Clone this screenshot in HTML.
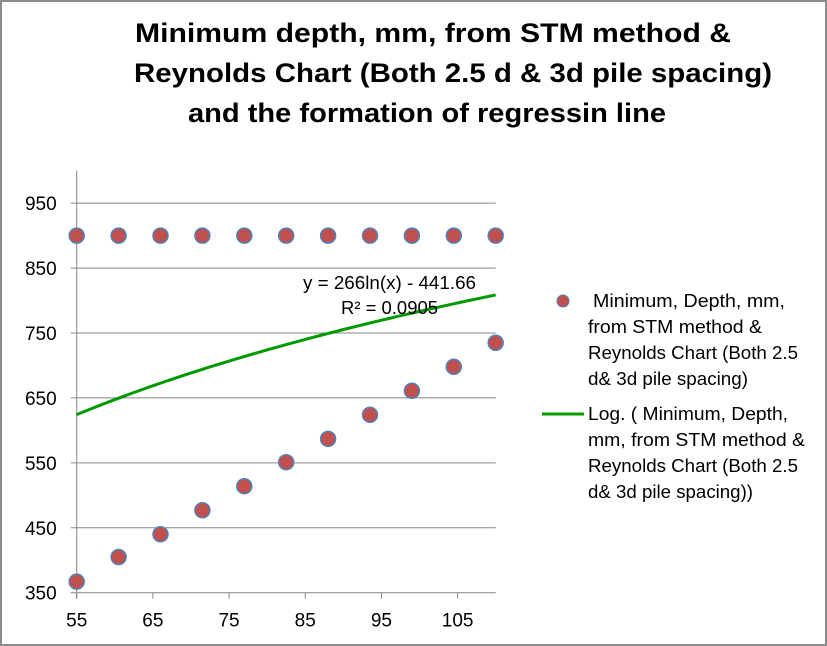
<!DOCTYPE html>
<html><head><meta charset="utf-8"><style>
html,body{margin:0;padding:0;background:#fff;}
svg{display:block;font-family:"Liberation Sans",sans-serif;}
</style></head><body>
<svg id="chart" width="827" height="646" viewBox="0 0 827 646">
<rect x="1" y="1" width="825" height="644" fill="#fff" stroke="#8c8c8c" stroke-width="2"/>
<g font-weight="bold" font-size="27" fill="#000">
<text x="135" y="42" textLength="596" lengthAdjust="spacingAndGlyphs">Minimum depth, mm, from STM method &amp;</text>
<text x="134" y="82" textLength="638" lengthAdjust="spacingAndGlyphs">Reynolds Chart (Both 2.5 d &amp; 3d pile spacing)</text>
<text x="188" y="122" textLength="478" lengthAdjust="spacingAndGlyphs">and the formation of regressin line</text>
</g>
<g id="grid"></g>
<g id="axes"></g>
<g id="trend"></g>
<g id="pts"></g>
<g font-size="18" fill="#000">
<text x="303" y="289" textLength="173" lengthAdjust="spacingAndGlyphs">y = 266ln(x) - 441.66</text>
<text x="341" y="314" textLength="97" lengthAdjust="spacingAndGlyphs">R² = 0.0905</text>
</g>
<g font-size="18" fill="#000">
<g>
<circle cx="563" cy="301" r="6" fill="#c0504d" stroke="#4f81bd" stroke-width="1"/>
<text x="593" y="307" textLength="192" lengthAdjust="spacingAndGlyphs">Minimum, Depth, mm,</text>
<text x="588" y="333" textLength="174" lengthAdjust="spacingAndGlyphs">from STM method &amp;</text>
<text x="588" y="359" textLength="210" lengthAdjust="spacingAndGlyphs">Reynolds Chart (Both 2.5</text>
<text x="588" y="385" textLength="160" lengthAdjust="spacingAndGlyphs">d&amp; 3d pile spacing)</text>
</g>
<g>
<line x1="542" y1="414" x2="584" y2="414" stroke="#009900" stroke-width="3"/>
<text x="588" y="420" textLength="200" lengthAdjust="spacingAndGlyphs">Log. ( Minimum, Depth,</text>
<text x="588" y="446" textLength="217" lengthAdjust="spacingAndGlyphs">mm, from STM method &amp;</text>
<text x="588" y="472" textLength="210" lengthAdjust="spacingAndGlyphs">Reynolds Chart (Both 2.5</text>
<text x="588" y="498" textLength="165" lengthAdjust="spacingAndGlyphs">d&amp; 3d pile spacing))</text>
</g>
</g>
</svg>
<script>
const xValues=[55,60.5,66,71.5,77,82.5,88,93.5,99,104.5,110];
const seriesUpper=[900,900,900,900,900,900,900,900,900,900,900];
const seriesLower=[367,405,440,477,514,551,587,624,661,698,735];
const yTicks=[350,450,550,650,750,850,950];
const xTicks=[55,65,75,85,95,105];
const trendA=266, trendB=-441.66;
const NS='http://www.w3.org/2000/svg';
const X0=76.7,X1=495.7,XMIN=55,XMAX=110;
const Y0=592.7,YT=170.7,YMIN=350,YMAX=1000;
function sx(v){return X0+(v-XMIN)/(XMAX-XMIN)*(X1-X0);}
function sy(v){return Y0-(v-YMIN)/(YMAX-YMIN)*(Y0-YT);}
function mk(tag,attrs,parent){const e=document.createElementNS(NS,tag);for(const k in attrs)e.setAttribute(k,attrs[k]);parent.appendChild(e);return e;}
const grid=document.getElementById('grid'),axes=document.getElementById('axes');
yTicks.forEach(t=>{
  const l=mk('line',{x1:X0-6,x2:X1,y1:sy(t),y2:sy(t),stroke:'#868686','stroke-width':1},grid);
  
  
  const tx=mk('text',{x:X0-20,y:sy(t)+7,'text-anchor':'end','font-size':19,fill:'#000'},axes);
  tx.textContent=t;
  
  
});
const ya=mk('line',{x1:X0,x2:X0,y1:YT,y2:Y0+6,stroke:'#868686','stroke-width':1},axes);


xTicks.forEach(t=>{
  const l=mk('line',{x1:sx(t),x2:sx(t),y1:Y0,y2:Y0+6,stroke:'#868686','stroke-width':1},axes);
  
  
  const tx=mk('text',{x:sx(t),y:Y0+34,'text-anchor':'middle','font-size':19,fill:'#000'},axes);
  tx.textContent=t;
  
  
});
let d='';
for(let i=0;i<=60;i++){const x=XMIN+(XMAX-XMIN)*i/60;const y=trendA*Math.log(x)+trendB;d+=(i?'L':'M')+sx(x).toFixed(2)+','+sy(y).toFixed(2);}
const tp=mk('path',{d:d,fill:'none',stroke:'#009900','stroke-width':3},document.getElementById('trend'));


const pts=document.getElementById('pts');
[seriesUpper,seriesLower].forEach(s=>{s.forEach((v,i)=>{
  const c=mk('circle',{cx:sx(xValues[i]),cy:sy(v),r:7.5,fill:'#c0504d',stroke:'#4f81bd','stroke-width':1.5},pts);
  
  
});});
</script>
</body></html>
